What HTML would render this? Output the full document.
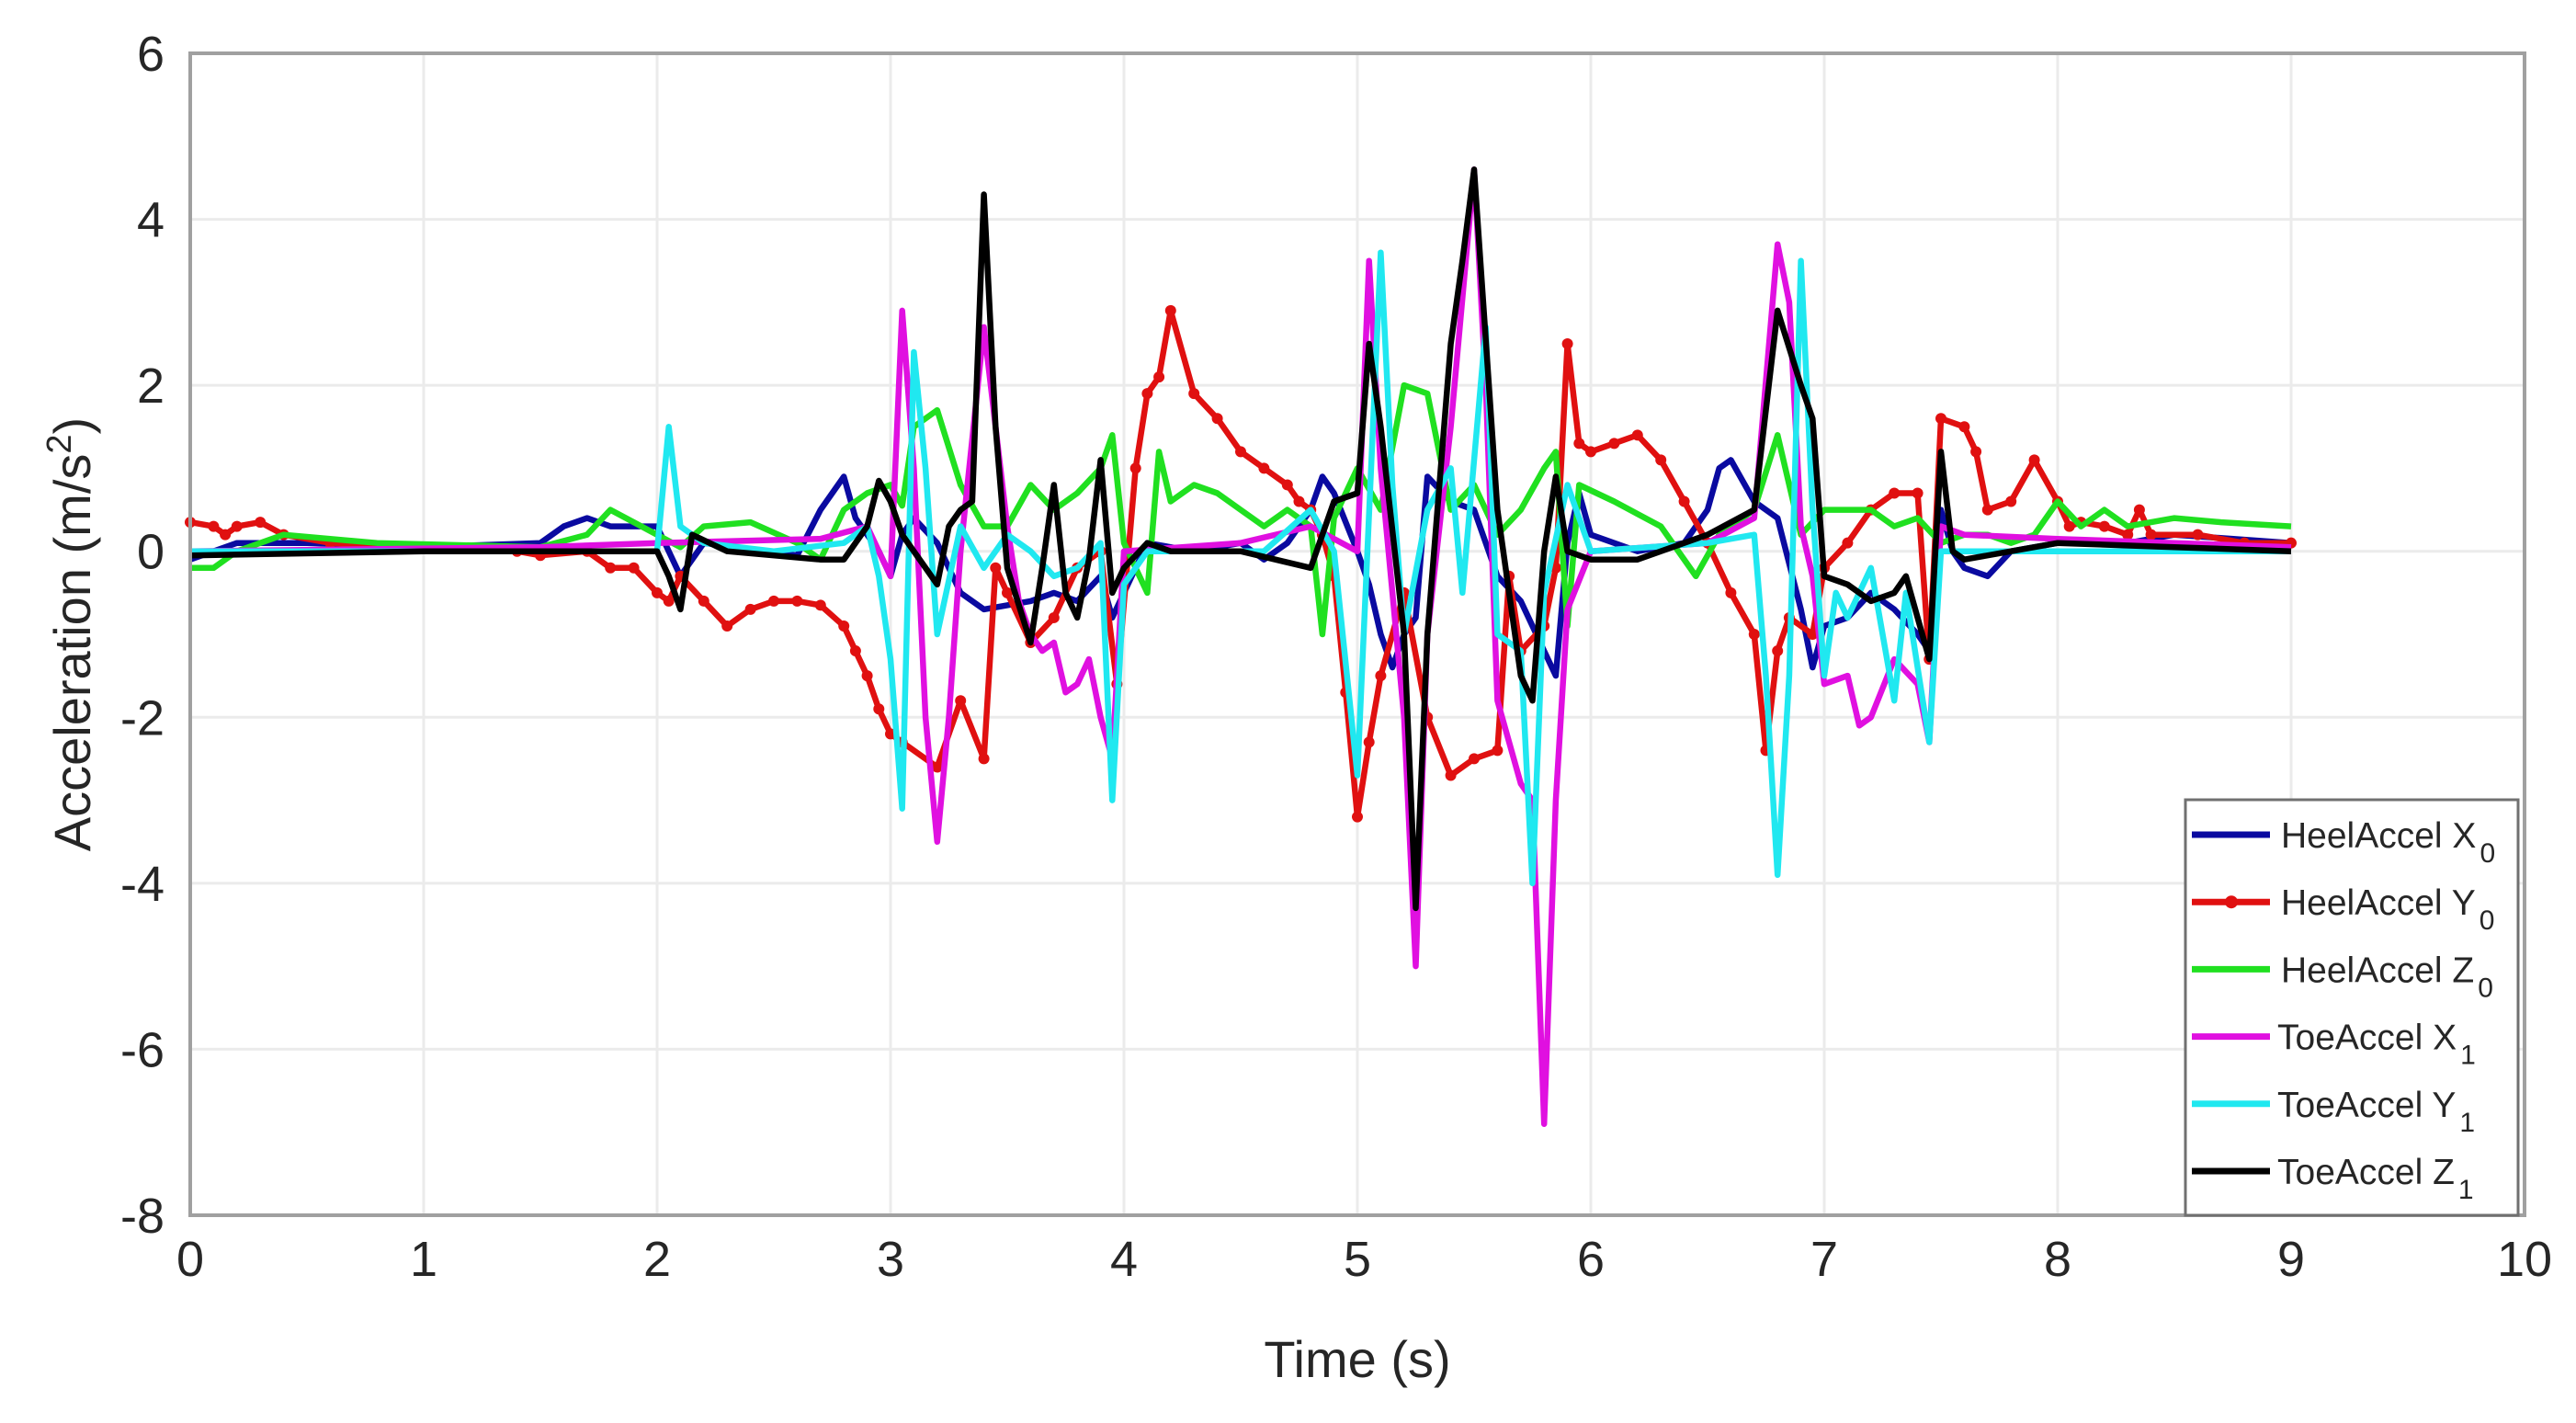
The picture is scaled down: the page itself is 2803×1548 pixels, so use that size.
<!DOCTYPE html>
<html><head><meta charset="utf-8"><style>
html,body{margin:0;padding:0;background:#fff;}
svg{display:block;font-family:"Liberation Sans",Arial,sans-serif;}
</style></head><body>
<svg id="chart" width="2803" height="1548" viewBox="0 0 2803 1548" xmlns="http://www.w3.org/2000/svg">
<rect width="2803" height="1548" fill="#fff"/>
<g id="grid"></g>
<g id="series"></g>
<g id="axes"></g>
<text x="1477" y="1498" font-size="56" fill="#262626" text-anchor="middle">Time (s)</text>
<text transform="translate(98,690) rotate(-90)" font-size="56" fill="#262626" text-anchor="middle">Acceleration (m/s<tspan baseline-shift="super" font-size="38">2</tspan>)</text>
<g id="legend"></g>
</svg>
<script>
const xTicks=[0,1,2,3,4,5,6,7,8,9,10];
const yTicks=[6,4,2,0,-2,-4,-6,-8];
const seriesNames=["HeelAccel X","HeelAccel Y","HeelAccel Z","ToeAccel X","ToeAccel Y","ToeAccel Z"];
const seriesSubs=["0","0","0","1","1","1"];
const seriesColors=["#0a0aa0","#e01010","#20e020","#e010e0","#20e8f0","#000000"];

const blueT=[0,0.2,0.5,1.0,1.5,1.6,1.7,1.8,2.0,2.1,2.2,2.6,2.7,2.8,2.85,2.95,3.0,3.05,3.1,3.2,3.3,3.4,3.6,3.7,3.8,3.9,3.95,4.0,4.1,4.3,4.5,4.6,4.7,4.8,4.85,4.9,5.0,5.05,5.1,5.15,5.2,5.25,5.3,5.4,5.5,5.6,5.7,5.8,5.85,5.9,5.95,6.0,6.2,6.4,6.5,6.55,6.6,6.7,6.8,6.9,6.95,7.0,7.1,7.2,7.3,7.4,7.45,7.5,7.55,7.6,7.7,7.8,8.0,8.3,8.5,9.0];
const blueV=[-0.1,0.1,0.1,0.05,0.1,0.3,0.4,0.3,0.3,-0.3,0.1,-0.05,0.5,0.9,0.4,0.0,-0.3,0.2,0.4,0.1,-0.5,-0.7,-0.6,-0.5,-0.6,-0.3,-0.8,-0.5,0.1,0.0,0.1,-0.1,0.1,0.5,0.9,0.7,0.0,-0.4,-1.0,-1.4,-1.0,-0.8,0.9,0.6,0.5,-0.3,-0.6,-1.2,-1.5,0.1,0.7,0.2,0.0,0.1,0.5,1.0,1.1,0.6,0.4,-0.7,-1.4,-0.9,-0.8,-0.5,-0.7,-1.0,-1.2,0.5,0.0,-0.2,-0.3,0.0,0.1,0.1,0.2,0.1];

const redT=[0,0.1,0.15,0.2,0.3,0.4,0.6,1.0,1.4,1.5,1.7,1.8,1.9,2.0,2.05,2.1,2.2,2.3,2.4,2.5,2.6,2.7,2.8,2.85,2.9,2.95,3.0,3.05,3.2,3.3,3.4,3.45,3.5,3.6,3.7,3.8,3.9,3.97,4.05,4.1,4.15,4.2,4.3,4.4,4.5,4.6,4.7,4.75,4.8,4.85,4.9,4.95,5.0,5.05,5.1,5.2,5.3,5.4,5.5,5.6,5.65,5.7,5.8,5.85,5.9,5.95,6.0,6.1,6.2,6.3,6.4,6.5,6.6,6.7,6.75,6.8,6.85,6.95,7.0,7.1,7.2,7.3,7.4,7.45,7.5,7.6,7.65,7.7,7.8,7.9,8.0,8.05,8.1,8.2,8.3,8.35,8.4,8.6,8.8,9.0];
const redV=[0.35,0.3,0.2,0.3,0.35,0.2,0.1,0.05,0.0,-0.05,0.0,-0.2,-0.2,-0.5,-0.6,-0.3,-0.6,-0.9,-0.7,-0.6,-0.6,-0.65,-0.9,-1.2,-1.5,-1.9,-2.2,-2.3,-2.6,-1.8,-2.5,-0.2,-0.5,-1.1,-0.8,-0.2,0.0,-1.6,1.0,1.9,2.1,2.9,1.9,1.6,1.2,1.0,0.8,0.6,0.5,0.2,-0.3,-1.7,-3.2,-2.3,-1.5,-0.5,-2.0,-2.7,-2.5,-2.4,-0.3,-1.2,-0.9,-0.2,2.5,1.3,1.2,1.3,1.4,1.1,0.6,0.1,-0.5,-1.0,-2.4,-1.2,-0.8,-1.0,-0.2,0.1,0.5,0.7,0.7,-1.3,1.6,1.5,1.2,0.5,0.6,1.1,0.6,0.3,0.35,0.3,0.2,0.5,0.2,0.2,0.1,0.1];

const greenT=[0,0.1,0.2,0.4,0.8,1.5,1.7,1.8,1.9,2.0,2.1,2.2,2.4,2.6,2.7,2.8,2.9,3.0,3.05,3.1,3.2,3.3,3.4,3.5,3.6,3.7,3.8,3.9,3.95,4.0,4.1,4.15,4.2,4.3,4.4,4.5,4.6,4.7,4.8,4.85,4.9,5.0,5.1,5.2,5.3,5.4,5.5,5.6,5.7,5.8,5.85,5.9,5.95,6.1,6.3,6.45,6.55,6.7,6.8,6.9,7.0,7.2,7.3,7.4,7.5,7.6,7.7,7.8,7.9,8.0,8.1,8.2,8.3,8.5,8.7,9.0];
const greenV=[-0.2,-0.2,0.0,0.2,0.1,0.05,0.2,0.5,0.35,0.2,0.05,0.3,0.35,0.1,-0.1,0.5,0.7,0.8,0.55,1.5,1.7,0.8,0.3,0.3,0.8,0.5,0.7,1.0,1.4,0.1,-0.5,1.2,0.6,0.8,0.7,0.5,0.3,0.5,0.3,-1.0,0.4,1.0,0.5,2.0,1.9,0.5,0.8,0.2,0.5,1.0,1.2,-0.9,0.8,0.6,0.3,-0.3,0.2,0.5,1.4,0.2,0.5,0.5,0.3,0.4,0.1,0.2,0.2,0.1,0.2,0.6,0.3,0.5,0.3,0.4,0.35,0.3];

const magT=[0,1.5,2.0,2.7,2.9,3.0,3.05,3.1,3.15,3.2,3.25,3.3,3.4,3.45,3.5,3.55,3.6,3.65,3.7,3.75,3.8,3.85,3.9,3.95,4.0,4.5,4.8,5.0,5.05,5.1,5.2,5.25,5.3,5.4,5.5,5.55,5.6,5.7,5.75,5.8,5.85,5.9,6.0,6.5,6.7,6.8,6.85,6.9,6.95,7.0,7.1,7.15,7.2,7.3,7.4,7.45,7.5,7.6,8.0,8.5,9.0];
const magV=[0,0.05,0.1,0.15,0.3,-0.3,2.9,1.0,-2.0,-3.5,-2.0,0.0,2.7,1.5,0.3,-0.6,-1.0,-1.2,-1.1,-1.7,-1.6,-1.3,-2.0,-2.5,0.0,0.1,0.3,0.0,3.5,1.0,-2.0,-5.0,-1.0,1.5,4.6,2.0,-1.8,-2.8,-3.0,-6.9,-3.0,-0.7,0.0,0.1,0.4,3.7,3.0,0.3,-0.3,-1.6,-1.5,-2.1,-2.0,-1.3,-1.6,-2.3,0.3,0.2,0.15,0.1,0.05];

const cyanT=[0,1.5,2.0,2.05,2.1,2.2,2.5,2.8,2.9,2.95,3.0,3.05,3.1,3.15,3.2,3.3,3.4,3.5,3.6,3.7,3.8,3.9,3.95,4.0,4.1,4.3,4.6,4.8,4.9,5.0,5.1,5.15,5.2,5.3,5.4,5.45,5.55,5.6,5.7,5.75,5.8,5.9,6.0,6.5,6.7,6.75,6.8,6.85,6.9,6.95,7.0,7.05,7.1,7.2,7.3,7.35,7.45,7.5,7.6,8.0,9.0];
const cyanV=[0,0,0.0,1.5,0.3,0.1,0.0,0.1,0.3,-0.3,-1.3,-3.1,2.4,1.0,-1.0,0.3,-0.2,0.2,0.0,-0.3,-0.2,0.1,-3.0,-0.4,0.0,0.0,0.0,0.5,0.0,-2.7,3.6,0.8,-1.0,0.5,1.0,-0.5,2.7,-1.0,-1.2,-4.0,-0.5,0.8,0.0,0.1,0.2,-1.5,-3.9,-1.5,3.5,0.5,-1.5,-0.5,-0.8,-0.2,-1.8,-0.5,-2.3,0.0,0.0,0.0,0.0];

const blackT=[0,1.0,2.0,2.05,2.1,2.15,2.3,2.7,2.8,2.9,2.95,3.0,3.05,3.2,3.25,3.3,3.35,3.4,3.45,3.5,3.6,3.65,3.7,3.75,3.8,3.85,3.9,3.95,4.0,4.1,4.2,4.5,4.8,4.85,4.9,5.0,5.05,5.1,5.2,5.25,5.3,5.4,5.45,5.5,5.6,5.7,5.75,5.8,5.85,5.9,6.0,6.2,6.5,6.7,6.8,6.9,6.95,7.0,7.1,7.2,7.3,7.35,7.45,7.5,7.55,7.6,7.8,8.0,8.5,9.0];
const blackV=[-0.05,0.0,0.0,-0.3,-0.7,0.2,0.0,-0.1,-0.1,0.3,0.85,0.6,0.2,-0.4,0.3,0.5,0.6,4.3,1.5,-0.2,-1.1,-0.2,0.8,-0.5,-0.8,-0.1,1.1,-0.5,-0.2,0.1,0.0,0.0,-0.2,0.2,0.6,0.7,2.5,1.5,-1.0,-4.3,-1.0,2.5,3.5,4.6,0.5,-1.5,-1.8,0.0,0.9,0.0,-0.1,-0.1,0.2,0.5,2.9,2.0,1.6,-0.3,-0.4,-0.6,-0.5,-0.3,-1.3,1.2,0.0,-0.1,0.0,0.1,0.05,0.0];

const X0=207,X1=2747,Y0=58,Y1=1322,XMIN=0,XMAX=10,YMIN=-8,YMAX=6;
function xs(t){return X0+(t-XMIN)/(XMAX-XMIN)*(X1-X0);}
function ys(v){return Y1-(v-YMIN)/(YMAX-YMIN)*(Y1-Y0);}
const NS="http://www.w3.org/2000/svg";
function mk(tag,attrs,parent){const e=document.createElementNS(NS,tag);for(const k in attrs)e.setAttribute(k,attrs[k]);parent.appendChild(e);return e;}

const grid=document.getElementById('grid'),axes=document.getElementById('axes'),ser=document.getElementById('series'),leg=document.getElementById('legend');
xTicks.forEach(t=>{
  const l=mk('line',{x1:xs(t),x2:xs(t),y1:Y0,y2:Y1,stroke:'#ebebeb','stroke-width':3},grid);
  
  
  const tx=mk('text',{x:xs(t),y:Y1+66,'font-size':54,fill:'#262626','text-anchor':'middle'},axes);
  
  
  tx.textContent=t;
});
yTicks.forEach(v=>{
  const l=mk('line',{x1:X0,x2:X1,y1:ys(v),y2:ys(v),stroke:'#ebebeb','stroke-width':3},grid);
  
  
  const tx=mk('text',{x:X0-28,y:ys(v)+19,'font-size':54,fill:'#262626','text-anchor':'end'},axes);
  
  
  tx.textContent=v;
});
const box=mk('rect',{x:X0,y:Y0,width:X1-X0,height:Y1-Y0,fill:'none',stroke:'#a0a0a0','stroke-width':4},axes);



const allT=[blueT,redT,greenT,magT,cyanT,blackT];
const allV=[blueV,redV,greenV,magV,cyanV,blackV];
const keys=['heel-x0','heel-y0','heel-z0','toe-x1','toe-y1','toe-z1'];
for(let i=0;i<6;i++){
  const pts=allT[i].map((t,j)=>xs(t).toFixed(1)+','+ys(allV[i][j]).toFixed(1)).join(' ');
  const pl=mk('polyline',{points:pts,fill:'none',stroke:seriesColors[i],'stroke-width':6.5,'stroke-linejoin':'round'},ser);
  
  
  if(i===1){
    allT[i].forEach((t,j)=>{
      const c=mk('circle',{cx:xs(t),cy:ys(allV[i][j]),r:6,fill:seriesColors[i]},ser);
      
      
    });
  }
}
const lb=mk('rect',{x:2378,y:870,width:362,height:452,fill:'#fff',stroke:'#707070','stroke-width':3},leg);


for(let i=0;i<6;i++){
  const y=908+i*73.2;
  const g=mk('g',{},leg);
  
  
  mk('line',{x1:2385,x2:2470,y1:y,y2:y,stroke:seriesColors[i],'stroke-width':7},g);
  if(i===1) mk('circle',{cx:2428,cy:y,r:7,fill:seriesColors[i]},g);
  const tx=mk('text',{x:i<3?2482:2478,y:y+14,'font-size':39,fill:'#262626'},g);
  tx.textContent=seriesNames[i];
  const sub=mk('tspan',{'font-size':30,dy:16,dx:4},tx);
  sub.textContent=seriesSubs[i];
}
</script>
</body></html>
